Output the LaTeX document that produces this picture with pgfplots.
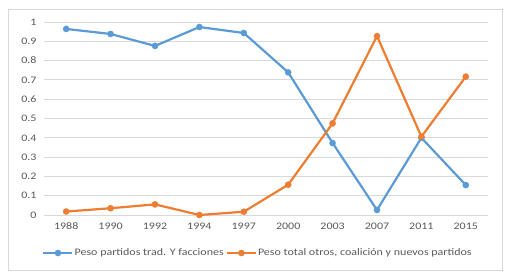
\documentclass[border=0pt]{standalone}
\usepackage{fontspec}
\setmainfont{Carlito}[FakeStretch=1.2]
\usepackage{pgfplots}
\pgfplotsset{compat=1.18}
\definecolor{cblue}{HTML}{5B9BD5}
\definecolor{corange}{HTML}{ED7D31}
\definecolor{gridc}{HTML}{D9D9D9}
\definecolor{txt}{HTML}{595959}
\begin{document}
\begin{tikzpicture}
\path[use as bounding box] (0pt,0pt) rectangle (509pt,276pt);
\draw[gridc,line width=0.8pt] (8pt,6pt) rectangle (502pt,267pt);
\begin{axis}[
  at={(44pt,61pt)}, anchor=south west,
  scale only axis, width=444pt, height=193pt,
  xmin=-0.5, xmax=9.5, ymin=0, ymax=1,
  xtick={0,...,9},
  xticklabels={1988,1990,1992,1994,1997,2000,2003,2007,2011,2015},
  ytick={0,0.1,0.2,0.3,0.4,0.5,0.6,0.7,0.8,0.9,1},
  yticklabels={0,0.1,0.2,0.3,0.4,0.5,0.6,0.7,0.8,0.9,1},
  axis x line*=bottom, axis y line*=left,
  x axis line style={draw=gridc, line width=0.8pt, -},
  y axis line style={draw=none},
  major tick style={draw=none},
  xmajorgrids=false, ymajorgrids=true,
  major grid style={draw=gridc, line width=0.8pt},
  tick label style={font=\fontsize{10}{12}\selectfont, text=txt},
  yticklabel style={xshift=-4pt},
  xticklabel style={yshift=-4pt},
  clip=false,
  legend columns=2,
  legend style={at={(0.481,-0.197)}, anchor=center, draw=none, fill=none,
    font=\fontsize{10}{12}\selectfont, text=txt,
    /tikz/every even column/.append style={column sep=1pt},
    /tikz/every odd column/.append style={column sep=0pt},
    inner sep=0pt, nodes={inner sep=1pt}},
  legend image code/.code={
    \draw[#1, mark repeat=2, mark phase=2] plot coordinates {(0pt,0pt) (14.5pt,0pt) (29pt,0pt)};
  },
]
\addplot[color=cblue, line width=2.2pt, mark=*, mark size=3.2pt, mark options={solid, fill=cblue, draw=cblue, line width=0.1pt}] coordinates {
(0,0.964) (1,0.938) (2,0.876) (3,0.974) (4,0.943) (5,0.739) (6,0.373) (7,0.026) (8,0.400) (9,0.155)
};
\addlegendentry{Peso partidos trad. Y facciones}
\addplot[color=corange, line width=2.2pt, mark=*, mark size=3.2pt, mark options={solid, fill=corange, draw=corange, line width=0.1pt}] coordinates {
(0,0.018) (1,0.035) (2,0.055) (3,0.000) (4,0.017) (5,0.157) (6,0.475) (7,0.927) (8,0.406) (9,0.717)
};
\addlegendentry{Peso total otros, coalición y nuevos partidos}
\end{axis}
\end{tikzpicture}
\end{document}
